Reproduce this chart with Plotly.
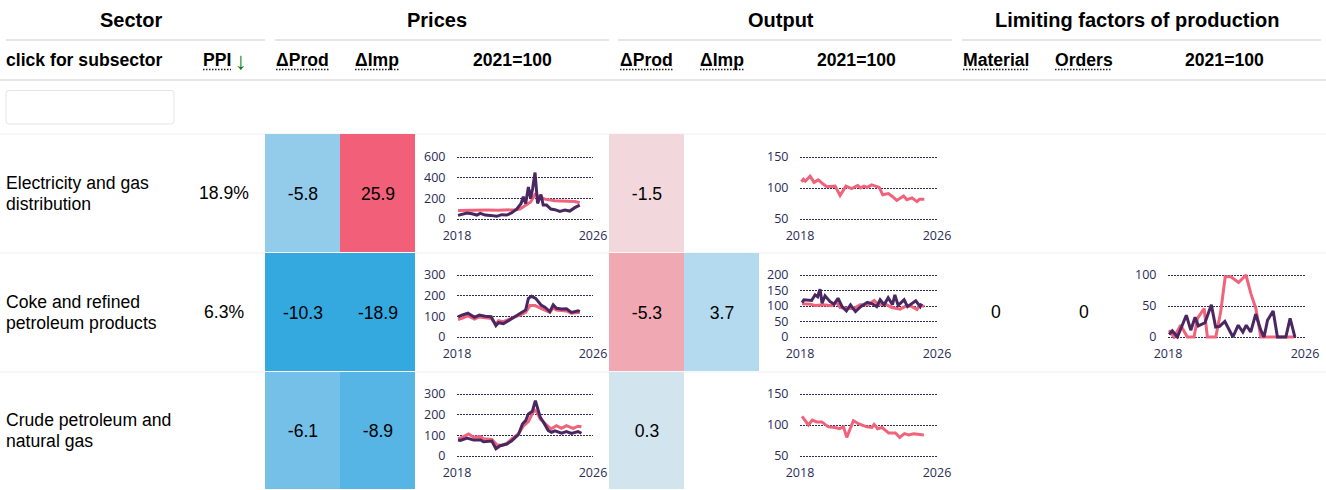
import plotly.graph_objects as go

# ---------- table content ----------
group_headers = ["Sector", "Prices", "Output", "Limiting factors of production"]
sectors = [["Electricity and gas", "distribution"], ["Coke and refined", "petroleum products"], ["Crude petroleum and", "natural gas"]]
ppi = ["18.9%", "6.3%", ""]
price_delta_prod = [-5.8, -10.3, -6.1]
price_delta_imp = [25.9, -18.9, -8.9]
output_delta_prod = [-1.5, -5.3, 0.3]
output_delta_imp = [None, 3.7, None]
limit_material = ["", "0", ""]
limit_orders = ["", "0", ""]

# ---------- sparkline series (year, value) ----------
elec_price_t = [2018.06,2018.29,2018.59,2018.88,2019.17,2019.37,2019.66,2019.95,2020.34,2020.63,2020.93,2021.22,2021.51,2021.77,2021.9,2022.04,2022.2,2022.33,2022.45,2022.59,2022.74,2022.94,2023.07,2023.27,2023.52,2023.76,2024.05,2024.34,2024.63,2024.93,2025.22]
elec_price_imp = [35,48,58,50,38,55,38,35,26,42,38,60,96,150,215,150,310,200,295,450,150,237,135,135,96,90,74,86,77,110,135]
elec_price_prod_t = [2018.06,2018.6,2019.2,2019.8,2020.4,2021.0,2021.4,2021.7,2022.1,2022.33,2022.59,2022.88,2023.17,2023.76,2024.34,2024.93,2025.22]
elec_price_prod = [83,86,88,86,85,86,90,96,135,165,237,215,192,176,170,170,157]

coke_price_t = [2018.06,2018.29,2018.64,2019.03,2019.31,2019.66,2020.01,2020.29,2020.44,2020.73,2021.03,2021.32,2021.71,2022.04,2022.2,2022.39,2022.63,2022.94,2023.17,2023.46,2023.66,2023.85,2024.15,2024.44,2024.73,2025.12,2025.22]
coke_price_imp = [97,106,115,95,106,100,98,55,69,65,79,95,113,131,187,197,187,155,144,123,156,139,135,137,119,127,123]
coke_price_prod_t = [2018.06,2018.29,2018.64,2019.03,2019.31,2019.66,2020.01,2020.29,2020.44,2020.73,2021.03,2021.32,2021.71,2022.04,2022.29,2022.59,2022.94,2023.46,2023.66,2023.85,2024.44,2024.73,2025.12,2025.22]
coke_price_prod = [85,90,102,87,97,94,90,61,79,74,85,95,106,119,152,152,139,119,142,131,126,115,119,119]

crude_price_t = [2018.06,2018.2,2018.59,2018.98,2019.37,2019.56,2020.05,2020.29,2020.54,2020.93,2021.22,2021.61,2021.85,2022.04,2022.2,2022.43,2022.61,2022.74,2022.9,2023.07,2023.37,2023.56,2023.76,2024.15,2024.44,2024.73,2025.12,2025.32]
crude_price_imp = [77,75,87,77,79,69,72,35,50,58,74,103,155,171,203,216,268,227,187,166,123,115,122,110,118,109,118,110]
crude_price_prod_t = [2018.06,2018.29,2018.68,2018.98,2019.37,2019.56,2020.05,2020.34,2020.63,2020.93,2021.22,2021.61,2021.9,2022.2,2022.55,2022.71,2022.9,2023.17,2023.52,2023.85,2024.15,2024.44,2024.83,2025.12,2025.32]
crude_price_prod = [83,90,107,91,94,83,80,54,51,61,83,107,144,166,224,211,179,160,131,147,134,147,134,144,142]

elec_out_t = [2018.08,2018.2,2018.31,2018.59,2018.82,2019.07,2019.37,2019.56,2020.05,2020.34,2020.68,2021.02,2021.37,2021.54,2021.73,2021.93,2022.18,2022.63,2022.83,2023.16,2023.41,2023.65,2024.05,2024.24,2024.54,2024.83,2024.98,2025.26]
elec_out = [110,114,111,119,109,113,106,102,103,88,103,99,104,100,103,101,105,101,89,91,86,80,87,81,84,78,82,82]

coke_out_t = [2018.12,2018.23,2018.68,2018.88,2019.03,2019.17,2019.29,2019.46,2019.76,2019.99,2020.22,2020.46,2020.71,2020.95,2021.24,2021.54,2021.93,2022.22,2022.48,2022.68,2022.91,2023.15,2023.4,2023.54,2023.73,2024.08,2024.28,2024.51,2024.76,2025.02,2025.1]
coke_out_imp = [111,120,118,136,130,154,109,133,114,106,125,98,84,104,82,98,112,107,98,120,104,127,104,136,102,120,98,106,117,98,108]
coke_out_prod_t = [2018.12,2018.59,2018.88,2019.37,2019.85,2020.14,2020.34,2020.73,2021.12,2021.51,2022.0,2022.33,2022.59,2022.98,2023.37,2023.85,2024.24,2024.54,2024.83,2025.02,2025.26]
coke_out_prod = [107,106,102,104,101,112,95,93,91,104,104,118,104,106,95,90,102,98,89,104,98]

crude_out_t = [2018.12,2018.49,2018.72,2018.98,2019.27,2019.66,2020.05,2020.3,2020.54,2020.73,2021.12,2021.41,2021.9,2022.2,2022.33,2022.53,2022.79,2023.18,2023.57,2023.82,2024.1,2024.35,2024.64,2025.23]
crude_out = [114,100,108,105,105,97,96,94,97,80,107,102,97,96,101,94,96,87,87,80,86,84,86,84]

lim_material_t = [2018.06,2018.35,2018.74,2019.13,2019.52,2019.72,2020.11,2020.3,2020.79,2021.08,2021.34,2021.67,2022.12,2022.55,2022.84,2023.13,2023.42,2025.37]
lim_material = [11,0,19,0,0,30,46,0,0,41,97,97,88,100,70,46,0,0]
lim_orders_t = [2018.06,2018.25,2018.55,2019.07,2019.33,2019.58,2019.77,2020.16,2020.53,2020.78,2021.01,2021.32,2021.79,2022.1,2022.37,2022.57,2022.83,2023.12,2023.42,2023.61,2023.81,2024.14,2024.39,2024.88,2025.13,2025.41]
lim_orders = [4,10,0,35,11,32,18,23,52,16,17,25,0,19,8,19,8,37,11,0,27,42,0,0,30,0]

year_ticks = [2018, 2026]
price_ticks = {0: [0, 200, 400, 600], 1: [0, 100, 200, 300], 2: [0, 100, 200, 300]}
output_ticks = {0: [50, 100, 150], 1: [0, 50, 100, 150, 200], 2: [50, 100, 150]}
limit_ticks = [0, 50, 100]

# ---------- style ----------
PINK, PURPLE, INK = "#f1637b", "#4a2760", "#2b2b55"
RULE, SOFT = "#e6e6e6", "#f0f0f0"
W, H = 1326, 490
FONT = "Liberation Sans"
BODY, HEAD = 17.6, 20
row_top = [134, 253, 372, 490]
row_mid = [193, 312, 430.5]
plot_rows = [(157, 219), (275, 337), (394, 456)]
PRICE_X, OUT_X, LIM_X = (457, 593), (800, 937), (1168, 1305)

fig = go.Figure()
fig.update_layout(
    width=W, height=H, margin=dict(l=0, r=0, t=0, b=0, autoexpand=False), showlegend=False,
    paper_bgcolor="white", plot_bgcolor="rgba(0,0,0,0)", hovermode=False,
    xaxis=dict(range=[0, W], domain=[0, 1], visible=False, fixedrange=True),
    yaxis=dict(range=[H, 0], domain=[0, 1], visible=False, fixedrange=True),
)

# ---------- heat cells ----------
def heat(edges, a, b, stops, zmin, zmax):
    z = [[a[i], b[i]] for i in range(3)]
    scale = [[(v - zmin) / (zmax - zmin), c] for v, c in stops]
    fig.add_trace(go.Heatmap(
        x=edges, y=row_top, z=z, zmin=zmin, zmax=zmax, colorscale=scale, showscale=False,
        ygap=1, hoverinfo="skip", texttemplate="%{z:.1f}", textfont=dict(family=FONT, size=BODY, color="black"),
    ))

heat([265, 340, 415], price_delta_prod, price_delta_imp,
     [(-10.3, "#33a9e0"), (-8.9, "#57b5e5"), (-6.1, "#74c0e8"), (-5.8, "#93cceb"), (25.9, "#f16078")], -10.3, 25.9)
heat([609, 684, 759], output_delta_prod, output_delta_imp,
     [(-5.3, "#f0a8b3"), (-1.5, "#f2d8dc"), (0.3, "#d2e4ee"), (3.7, "#b3daee")], -5.3, 3.7)

# ---------- rules and text ----------
def rule(x0, x1, y, color=RULE, width=2, dash="solid", layer="below"):
    fig.add_shape(type="line", x0=x0, x1=x1, y0=y, y1=y, xref="x", yref="y",
                  line=dict(color=color, width=width, dash=dash), layer=layer)

def text(x, y, s, size=BODY, bold=False, anchor="center", color="black"):
    fig.add_annotation(x=x, y=y, xref="x", yref="y", text=f"<b>{s}</b>" if bold else s, showarrow=False,
                       xanchor=anchor, yanchor="middle", align="left" if anchor == "left" else "center",
                       borderpad=0, borderwidth=0, font=dict(family=FONT, size=size, color=color))

for x0, x1 in [(6, 265), (275, 609), (618, 952), (962, 1321)]:
    rule(x0, x1, 40)
rule(0, W, 80)
for y in [134, 253, 372]:
    rule(0, W, y, SOFT, 1)

for x, s in zip([131, 437, 781, 1137], group_headers):
    text(x, 20, s, HEAD, True)

text(6, 60, "click for subsector", BODY, True, "left")
dotted = [(203, 231, "PPI"), (276, 329, "ΔProd"), (355, 399, "ΔImp"), (620, 673, "ΔProd"),
          (700, 744, "ΔImp"), (963, 1029, "Material"), (1055, 1112, "Orders")]
for x0, x1, s in dotted:
    text(x0, 60, s, BODY, True, "left")
    rule(x0, x1, 69.5, "#222222", 1.5, "1.5px,1.5px", "above")
text(241, 60, "↓", 24, False, "center", "#008000")
for x in [512, 856, 1224]:
    text(x, 60, "2021=100", BODY, True)

fig.add_shape(type="path", xref="x", yref="y", layer="below", fillcolor="white",
              line=dict(color="#e4e4e4", width=1),
              path="M 9 90.5 L 171 90.5 Q 174 90.5 174 93.5 L 174 121 Q 174 124 171 124 "
                   "L 9 124 Q 6 124 6 121 L 6 93.5 Q 6 90.5 9 90.5 Z")

for i in range(3):
    text(6, row_mid[i] - 10.5, sectors[i][0], BODY, False, "left")
    text(6, row_mid[i] + 10.5, sectors[i][1], BODY, False, "left")
    if ppi[i]:
        text(224, row_mid[i], ppi[i], BODY)
    if limit_material[i]:
        text(996, row_mid[i], limit_material[i], BODY)
    if limit_orders[i]:
        text(1084, row_mid[i], limit_orders[i], BODY)

# ---------- sparklines ----------
axis_n = [1]
PAD = 2  # pixels of slack so the end gridlines are kept
def spark(xpx, ypx, ticks, series):
    axis_n[0] += 1
    n = axis_n[0]
    tick_font = dict(family="Open Sans", size=12.5, color=INK)
    per_px = (ticks[-1] - ticks[0]) / (ypx[1] - ypx[0])
    fig.layout[f"xaxis{n}"] = dict(
        domain=[xpx[0] / W, xpx[1] / W], range=[2018, 2026], anchor=f"y{n}", tickmode="array", tickvals=year_ticks,
        showgrid=False, zeroline=False, showline=False, ticks="outside", ticklen=3, tickcolor="rgba(0,0,0,0)",
        tickfont=tick_font, fixedrange=True)
    fig.layout[f"yaxis{n}"] = dict(
        domain=[1 - (ypx[1] + PAD) / H, 1 - (ypx[0] - PAD) / H],
        range=[ticks[0] - PAD * per_px, ticks[-1] + PAD * per_px], anchor=f"x{n}", tickmode="array", tickvals=ticks,
        showgrid=True, gridcolor=INK, griddash="1.5px,1.5px", gridwidth=1.2, zeroline=False, showline=False,
        ticks="outside", ticklen=8, tickcolor="rgba(0,0,0,0)", tickfont=tick_font, fixedrange=True)
    for t, v, c in series:
        fig.add_trace(go.Scatter(x=t, y=v, mode="lines", line=dict(color=c, width=3), hoverinfo="skip",
                                 xaxis=f"x{n}", yaxis=f"y{n}", cliponaxis=False))

spark(PRICE_X, plot_rows[0], price_ticks[0], [(elec_price_prod_t, elec_price_prod, PINK), (elec_price_t, elec_price_imp, PURPLE)])
spark(PRICE_X, plot_rows[1], price_ticks[1], [(coke_price_prod_t, coke_price_prod, PINK), (coke_price_t, coke_price_imp, PURPLE)])
spark(PRICE_X, plot_rows[2], price_ticks[2], [(crude_price_prod_t, crude_price_prod, PINK), (crude_price_t, crude_price_imp, PURPLE)])
spark(OUT_X, plot_rows[0], output_ticks[0], [(elec_out_t, elec_out, PINK)])
spark(OUT_X, plot_rows[1], output_ticks[1], [(coke_out_prod_t, coke_out_prod, PINK), (coke_out_t, coke_out_imp, PURPLE)])
spark(OUT_X, plot_rows[2], output_ticks[2], [(crude_out_t, crude_out, PINK)])
spark(LIM_X, plot_rows[1], limit_ticks, [(lim_material_t, lim_material, PINK), (lim_orders_t, lim_orders, PURPLE)])

fig.write_html("out.html", config={"displayModeBar": False},
               post_script="document.body.style.margin='0';document.documentElement.style.overflow='hidden';")
